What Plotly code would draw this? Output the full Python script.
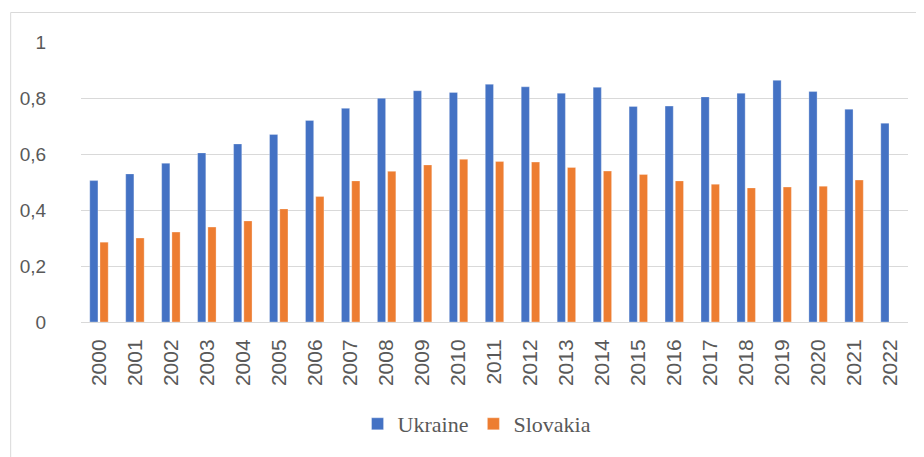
import plotly.graph_objects as go

years = [str(y) for y in range(2000, 2023)]
ukraine = [0.505, 0.529, 0.567, 0.604, 0.636, 0.670, 0.720, 0.763, 0.799, 0.826,
           0.820, 0.849, 0.840, 0.817, 0.838, 0.770, 0.771, 0.804, 0.817, 0.863,
           0.823, 0.760, 0.710]
slovakia = [0.285, 0.300, 0.321, 0.339, 0.361, 0.404, 0.448, 0.504, 0.538, 0.561,
            0.581, 0.573, 0.571, 0.552, 0.539, 0.527, 0.504, 0.492, 0.479, 0.482,
            0.485, 0.507, None]
y_tickvals = [0, 0.2, 0.4, 0.6, 0.8, 1]
y_ticktext = ["0", "0,2", "0,4", "0,6", "0,8", "1"]

fig = go.Figure()
fig.add_trace(go.Bar(x=years, y=ukraine, name="Ukraine",
                     marker=dict(color="#4472C4", line=dict(color="rgba(255,255,255,0.5)", width=0.6))))
fig.add_trace(go.Bar(x=years, y=slovakia, name="Slovakia",
                     marker=dict(color="#ED7D31", line=dict(color="rgba(255,255,255,0.5)", width=0.6))))

# page has an 8px body margin; coordinates below are figure coordinates
OFF = 8
W, H = 924 - OFF, 457 - OFF
L, R, T = 79 - OFF, 16, 42 - OFF
B = H - (322 - OFF)
pw, ph = W - L - R, H - T - B


def px_x(page_x):
    return (page_x - OFF - L) / pw


def px_y(page_y):
    return (H - B - (page_y - OFF)) / ph


fig.update_layout(
    width=W, height=H,
    margin=dict(l=L, r=R, t=T, b=B, pad=0),
    paper_bgcolor="white", plot_bgcolor="white",
    barmode="group", bargap=0.43, bargroupgap=0.2,
    font=dict(family="Liberation Sans", color="#595959"),
    showlegend=True,
    legend=dict(orientation="h", x=px_x(476), xanchor="center",
                y=px_y(424), yanchor="middle",
                font=dict(family="'Times New Roman', 'Liberation Serif', serif", size=22,
                          color="#595959", weight="normal"),
                itemwidth=30, traceorder="normal"),
    shapes=[
        dict(type="line", xref="paper", yref="paper",
             x0=px_x(8.5), x1=px_x(950), y0=px_y(12.5), y1=px_y(12.5),
             line=dict(color="#D9D9D9", width=1)),
        dict(type="line", xref="paper", yref="paper",
             x0=px_x(8.5), x1=px_x(8.5), y0=px_y(12.5), y1=px_y(480),
             line=dict(color="#D9D9D9", width=1)),
    ],
)
fig.update_xaxes(type="category", tickangle=-90, showgrid=False,
                 showline=True, linecolor="#D9D9D9", linewidth=1,
                 ticks="", tickfont=dict(size=21, color="#595959"),
                 ticklabelstandoff=8)
fig.update_yaxes(range=[0, 1], tickvals=y_tickvals, ticktext=y_ticktext,
                 showgrid=True, gridcolor="#D9D9D9", gridwidth=1,
                 zeroline=False, showline=False,
                 ticks="outside", ticklen=30, tickcolor="rgba(0,0,0,0)",
                 tickfont=dict(size=19, color="#595959"))

fig.write_html("out.html")
